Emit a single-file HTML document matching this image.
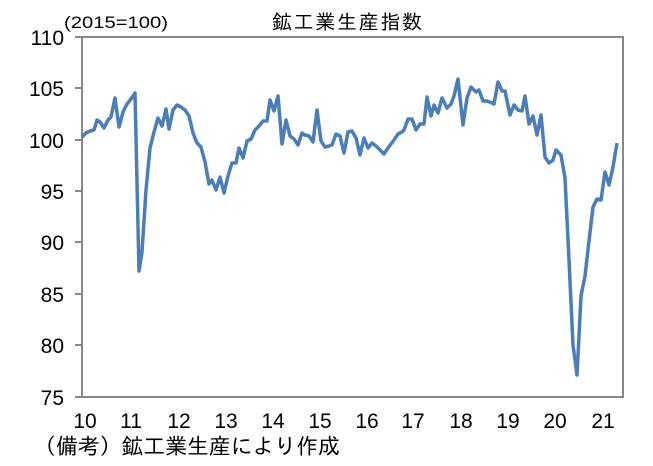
<!DOCTYPE html>
<html><head><meta charset="utf-8"><style>
body{margin:0;background:#fff;}
svg text{font-family:"Liberation Sans","IPAGothic","Noto Sans CJK JP",sans-serif;fill:#000;}
</style></head><body>
<svg width="653" height="461" xmlns="http://www.w3.org/2000/svg">
<rect x="0" y="0" width="653" height="461" fill="#fff"/>
<rect x="82" y="37" width="541" height="360" fill="none" stroke="#888" stroke-width="2"/>
<g stroke="#888" stroke-width="2">
<line x1="75" y1="37" x2="82" y2="37"/><line x1="75" y1="88" x2="82" y2="88"/>
<line x1="75" y1="140" x2="82" y2="140"/><line x1="75" y1="191" x2="82" y2="191"/>
<line x1="75" y1="242" x2="82" y2="242"/><line x1="75" y1="294" x2="82" y2="294"/>
<line x1="75" y1="345" x2="82" y2="345"/><line x1="75" y1="397" x2="82" y2="397"/>
</g>
<g font-size="21" text-anchor="end">
<text x="64" y="45">110</text><text x="64" y="96">105</text><text x="64" y="148">100</text>
<text x="64" y="199">95</text><text x="64" y="250">90</text><text x="64" y="302">85</text>
<text x="64" y="353">80</text><text x="64" y="405">75</text>
</g>
<g font-size="21" text-anchor="middle">
<text x="85" y="428">10</text><text x="131" y="428">11</text><text x="179" y="428">12</text>
<text x="226" y="428">13</text><text x="273" y="428">14</text><text x="320" y="428">15</text>
<text x="367" y="428">16</text><text x="413" y="428">17</text><text x="461" y="428">18</text>
<text x="508" y="428">19</text><text x="555" y="428">20</text><text x="603" y="428">21</text>
</g>
<text x="64" y="28" font-size="17" textLength="104" lengthAdjust="spacingAndGlyphs">(2015=100)</text>
<text x="272" y="29" font-size="20" textLength="150" style="font-family:'IPAGothic',sans-serif">鉱工業生産指数</text>
<text x="34" y="454" font-size="22" textLength="306" style="font-family:'IPAGothic',sans-serif">（備考）鉱工業生産により作成</text>
<polyline fill="none" stroke="#4a7ebb" stroke-width="3.5" stroke-linejoin="round" points="82,137 86,133 90,131 94,130 97,120 100,122 104,128 108,120 111,117 115,98 119,127 123,112 127,104 131,99 135,93 139,271 142,252 146,190 150,148 154,132 158,118 162,126 166,109 169,129 173,110 177,105 181,107 185,110 189,116 193,133 197,143 201,147 205,162 209,184 212,180 216,190 220,177 224,193 228,176 232,163 236,163 239,148 243,158 247,141 251,139 255,130 259,126 263,121 267,121 270,100 274,111 278,96 282,144 286,120 290,136 294,139 298,145 302,133 305,135 309,136 313,142 317,110 321,141 325,147 329,146 332,145 336,134 340,136 344,153 348,132 352,131 356,138 360,155 364,138 368,148 372,143 376,146 380,150 384,154 388,148 394,140 398,134 402,132 404,130 408,119 412,119 416,130 420,124 424,124 427,97 431,116 434,105 438,113 442,98 447,108 451,104 454,96 458,79 463,125 467,98 471,87 476,92 479,90 483,101 487,101 492,103 494,104 498,82 502,91 505,91 510,115 514,105 518,110 522,111 525,96 529,124 533,116 537,135 541,115 545,157 549,163 553,160 556,150 561,155 565,178 569,260 573,345 577,375 581,296 585,276 589,241 593,207 597,199 601,200 605,172 609,185 613,167 617,143"/>
</svg>
</body></html>
